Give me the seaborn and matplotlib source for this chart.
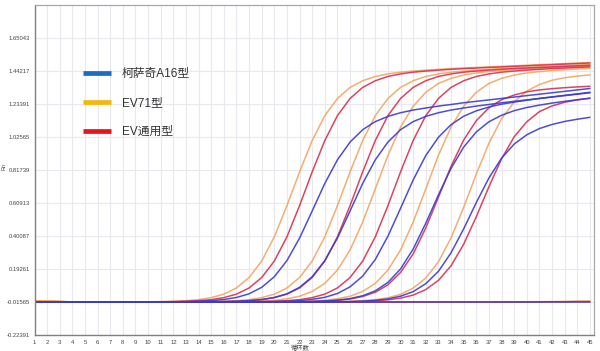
import pandas as pd
import matplotlib
matplotlib.use("Agg")
import matplotlib.pyplot as plt
from matplotlib.lines import Line2D
import seaborn as sns

cycles = list(range(1, 46))

# EV71 wells (orange)
ev71_1 = [-0.010, -0.011, -0.013, -0.015, -0.016, -0.016, -0.016, -0.016, -0.016,
          -0.015, -0.013, -0.011, -0.007, -0.001, 0.012, 0.034, 0.073, 0.139,
          0.243, 0.396, 0.593, 0.806, 1.004, 1.161, 1.269, 1.339, 1.381,
          1.408, 1.424, 1.435, 1.442, 1.448, 1.453, 1.458, 1.461, 1.465,
          1.468, 1.472, 1.475, 1.479, 1.482, 1.486, 1.489, 1.493, 1.496]
ev71_2 = [-0.010, -0.011, -0.013, -0.015, -0.016, -0.016, -0.016, -0.016, -0.016,
          -0.016, -0.016, -0.016, -0.016, -0.015, -0.013, -0.011, -0.007, -0.001,
          0.012, 0.034, 0.073, 0.139, 0.243, 0.396, 0.593, 0.806, 1.004,
          1.161, 1.269, 1.339, 1.381, 1.408, 1.424, 1.435, 1.442, 1.448,
          1.453, 1.458, 1.461, 1.465, 1.468, 1.472, 1.475, 1.479, 1.482]
ev71_3 = [-0.010, -0.011, -0.013, -0.015, -0.016, -0.016, -0.016, -0.016, -0.016,
          -0.016, -0.016, -0.016, -0.016, -0.016, -0.016, -0.015, -0.014, -0.013,
          -0.010, -0.005, 0.005, 0.021, 0.051, 0.102, 0.186, 0.313, 0.489,
          0.699, 0.910, 1.089, 1.220, 1.308, 1.364, 1.396, 1.417, 1.430,
          1.439, 1.445, 1.451, 1.455, 1.459, 1.463, 1.466, 1.470, 1.473]
ev71_4 = [-0.010, -0.011, -0.013, -0.015, -0.016, -0.016, -0.016, -0.016, -0.016,
          -0.016, -0.016, -0.016, -0.016, -0.016, -0.016, -0.016, -0.016, -0.016,
          -0.016, -0.015, -0.014, -0.013, -0.010, -0.005, 0.005, 0.021, 0.051,
          0.102, 0.186, 0.313, 0.489, 0.699, 0.910, 1.089, 1.220, 1.308,
          1.364, 1.396, 1.417, 1.430, 1.439, 1.445, 1.451, 1.455, 1.459]
ev71_5 = [-0.010, -0.011, -0.013, -0.015, -0.016, -0.016, -0.016, -0.016, -0.016,
          -0.016, -0.016, -0.016, -0.016, -0.016, -0.016, -0.016, -0.016, -0.016,
          -0.016, -0.016, -0.016, -0.016, -0.016, -0.015, -0.013, -0.011, -0.007,
          -0.001, 0.011, 0.033, 0.072, 0.136, 0.238, 0.389, 0.582, 0.792,
          0.987, 1.141, 1.247, 1.316, 1.357, 1.384, 1.400, 1.410, 1.418]
ev71_ntc = [-0.010, -0.011, -0.013, -0.015, -0.016, -0.016, -0.016, -0.016, -0.016,
            -0.016, -0.016, -0.016, -0.016, -0.016, -0.016, -0.016, -0.016, -0.016,
            -0.016, -0.016, -0.016, -0.016, -0.016, -0.016, -0.016, -0.016, -0.016,
            -0.016, -0.016, -0.016, -0.016, -0.016, -0.016, -0.016, -0.016, -0.016,
            -0.016, -0.015, -0.015, -0.014, -0.014, -0.013, -0.012, -0.011, -0.010]

# EV pan wells (red)
ev_1 = [-0.016, -0.016, -0.016, -0.016, -0.016, -0.016, -0.016, -0.016, -0.016,
        -0.016, -0.015, -0.013, -0.011, -0.007, -0.001, 0.012, 0.034, 0.073,
        0.139, 0.243, 0.396, 0.593, 0.806, 1.004, 1.161, 1.269, 1.339,
        1.381, 1.408, 1.424, 1.435, 1.442, 1.448, 1.453, 1.458, 1.461,
        1.465, 1.468, 1.472, 1.475, 1.479, 1.482, 1.486, 1.489, 1.493]
ev_2 = [-0.016, -0.016, -0.016, -0.016, -0.016, -0.016, -0.016, -0.016, -0.016,
        -0.016, -0.016, -0.016, -0.016, -0.016, -0.015, -0.013, -0.011, -0.007,
        -0.001, 0.012, 0.034, 0.073, 0.139, 0.243, 0.396, 0.593, 0.806,
        1.004, 1.161, 1.269, 1.339, 1.381, 1.408, 1.424, 1.435, 1.442,
        1.448, 1.453, 1.458, 1.461, 1.465, 1.468, 1.472, 1.475, 1.479]
ev_3 = [-0.016, -0.016, -0.016, -0.016, -0.016, -0.016, -0.016, -0.016, -0.016,
        -0.016, -0.016, -0.016, -0.016, -0.016, -0.016, -0.016, -0.016, -0.015,
        -0.013, -0.011, -0.007, -0.001, 0.012, 0.034, 0.073, 0.139, 0.243,
        0.396, 0.593, 0.806, 1.004, 1.161, 1.269, 1.339, 1.381, 1.408,
        1.424, 1.435, 1.442, 1.448, 1.453, 1.458, 1.461, 1.465, 1.468]
ev_4 = [-0.016, -0.016, -0.016, -0.016, -0.016, -0.016, -0.016, -0.016, -0.016,
        -0.016, -0.016, -0.016, -0.016, -0.016, -0.016, -0.016, -0.016, -0.016,
        -0.016, -0.016, -0.015, -0.014, -0.013, -0.010, -0.005, 0.003, 0.019,
        0.046, 0.093, 0.171, 0.288, 0.452, 0.646, 0.841, 1.007, 1.129,
        1.210, 1.261, 1.291, 1.311, 1.323, 1.331, 1.337, 1.342, 1.346]
ev_5 = [-0.016, -0.016, -0.016, -0.016, -0.016, -0.016, -0.016, -0.016, -0.016,
        -0.016, -0.016, -0.016, -0.016, -0.016, -0.016, -0.016, -0.016, -0.016,
        -0.016, -0.016, -0.016, -0.016, -0.016, -0.016, -0.015, -0.014, -0.012,
        -0.008, -0.002, 0.009, 0.028, 0.063, 0.121, 0.213, 0.349, 0.523,
        0.712, 0.888, 1.027, 1.122, 1.186, 1.222, 1.245, 1.260, 1.270]
ev_ntc = [-0.015, -0.015, -0.016, -0.016, -0.016, -0.016, -0.016, -0.016, -0.016,
          -0.016, -0.016, -0.016, -0.016, -0.016, -0.016, -0.016, -0.016, -0.016,
          -0.016, -0.016, -0.016, -0.016, -0.016, -0.016, -0.016, -0.016, -0.016,
          -0.016, -0.016, -0.016, -0.016, -0.016, -0.016, -0.016, -0.016, -0.016,
          -0.016, -0.016, -0.015, -0.015, -0.015, -0.014, -0.014, -0.013, -0.013]

# Coxsackie A16 wells (blue)
ca16_1 = [-0.016, -0.016, -0.016, -0.016, -0.016, -0.016, -0.016, -0.016, -0.016,
          -0.016, -0.015, -0.015, -0.013, -0.011, -0.007, 0.000, 0.013, 0.036,
          0.077, 0.144, 0.246, 0.388, 0.559, 0.733, 0.882, 0.994, 1.072,
          1.123, 1.156, 1.179, 1.196, 1.209, 1.221, 1.231, 1.242, 1.251,
          1.260, 1.269, 1.278, 1.287, 1.296, 1.305, 1.314, 1.323, 1.332]
ca16_2 = [-0.016, -0.016, -0.016, -0.016, -0.016, -0.016, -0.016, -0.016, -0.016,
          -0.016, -0.016, -0.016, -0.016, -0.015, -0.015, -0.013, -0.011, -0.007,
          0.000, 0.013, 0.036, 0.077, 0.144, 0.246, 0.388, 0.559, 0.733,
          0.882, 0.994, 1.072, 1.123, 1.156, 1.179, 1.196, 1.209, 1.221,
          1.231, 1.242, 1.251, 1.260, 1.269, 1.278, 1.287, 1.296, 1.305]
ca16_3 = [-0.016, -0.016, -0.016, -0.016, -0.016, -0.016, -0.016, -0.016, -0.016,
          -0.016, -0.016, -0.016, -0.016, -0.016, -0.016, -0.016, -0.016, -0.015,
          -0.014, -0.013, -0.011, -0.007, 0.001, 0.014, 0.038, 0.080, 0.148,
          0.253, 0.400, 0.576, 0.755, 0.909, 1.024, 1.104, 1.157, 1.191,
          1.215, 1.233, 1.246, 1.258, 1.269, 1.279, 1.289, 1.298, 1.308]
ca16_4 = [-0.016, -0.016, -0.016, -0.016, -0.016, -0.016, -0.016, -0.016, -0.016,
          -0.016, -0.016, -0.016, -0.016, -0.016, -0.016, -0.016, -0.016, -0.016,
          -0.016, -0.016, -0.015, -0.014, -0.012, -0.009, -0.004, 0.006, 0.024,
          0.055, 0.108, 0.193, 0.319, 0.482, 0.660, 0.828, 0.962, 1.058,
          1.122, 1.163, 1.192, 1.212, 1.227, 1.240, 1.251, 1.261, 1.271]
ca16_5 = [-0.016, -0.016, -0.016, -0.016, -0.016, -0.016, -0.016, -0.016, -0.016,
          -0.016, -0.016, -0.016, -0.016, -0.016, -0.016, -0.016, -0.016, -0.016,
          -0.016, -0.016, -0.016, -0.016, -0.016, -0.015, -0.014, -0.013, -0.010,
          -0.005, 0.004, 0.021, 0.050, 0.100, 0.178, 0.295, 0.446, 0.612,
          0.767, 0.892, 0.981, 1.040, 1.079, 1.105, 1.124, 1.138, 1.150]
ca16_ntc = [-0.018, -0.018, -0.018, -0.018, -0.018, -0.018, -0.018, -0.018, -0.018,
            -0.018, -0.018, -0.018, -0.018, -0.018, -0.018, -0.018, -0.018, -0.018,
            -0.018, -0.018, -0.018, -0.018, -0.018, -0.018, -0.018, -0.018, -0.018,
            -0.018, -0.018, -0.018, -0.018, -0.018, -0.018, -0.018, -0.018, -0.018,
            -0.018, -0.018, -0.018, -0.018, -0.018, -0.018, -0.018, -0.018, -0.018]

y_ticks = [-0.22391, -0.01565, 0.19261, 0.40087, 0.60913, 0.81739,
           1.02565, 1.23391, 1.44217, 1.65043]
y_tick_labels = ["-0.22391", "-0.01565", "0.19261", "0.40087", "0.60913",
                 "0.81739", "1.02565", "1.23391", "1.44217", "1.65043"]
legend_labels = ["柯萨奇A16型", "EV71型", "EV通用型"]
legend_colors = ["#1a6cc4", "#f6b60a", "#e8141c"]

orange = "#f2a560"
red = "#d8304e"
blue = "#3b3bd0"

series = {
    "ev71_ntc": (ev71_ntc, orange), "ev71_1": (ev71_1, orange), "ev71_2": (ev71_2, orange),
    "ev71_3": (ev71_3, orange), "ev71_4": (ev71_4, orange), "ev71_5": (ev71_5, orange),
    "ev_ntc": (ev_ntc, red), "ev_1": (ev_1, red), "ev_2": (ev_2, red),
    "ev_3": (ev_3, red), "ev_4": (ev_4, red), "ev_5": (ev_5, red),
    "ca16_ntc": (ca16_ntc, blue), "ca16_1": (ca16_1, blue), "ca16_2": (ca16_2, blue),
    "ca16_3": (ca16_3, blue), "ca16_4": (ca16_4, blue), "ca16_5": (ca16_5, blue),
}

df = pd.concat([pd.DataFrame({"cycle": cycles, "rn": vals, "well": name})
                for name, (vals, _) in series.items()], ignore_index=True)
palette = {name: col for name, (_, col) in series.items()}

sns.set_theme(style="whitegrid")
plt.rcParams["font.family"] = ["Liberation Sans", "Noto Sans CJK SC"]

fig = plt.figure(figsize=(6, 3.51), dpi=100)
ax = fig.add_axes([0.0575, 0.0456, 0.932, 0.940])

sns.lineplot(data=df, x="cycle", y="rn", hue="well", hue_order=list(series.keys()),
             palette=palette, estimator=None, legend=False, lw=1.1, alpha=0.9, ax=ax)

ax.set_xlim(1, 45.3)
ax.set_ylim(-0.22391, 1.85869)
ax.set_xticks(cycles)
ax.set_xticklabels([str(c) for c in cycles])
ax.set_yticks(y_ticks)
ax.set_yticklabels(y_tick_labels)
ax.tick_params(axis="both", labelsize=4.2, colors="#444444", length=1.5, pad=2)
ax.grid(True, color="#e8e8ee", lw=0.8)

for side in ["left", "bottom"]:
    ax.spines[side].set_color("#808080")
    ax.spines[side].set_linewidth(1.0)
for side in ["top", "right"]:
    ax.spines[side].set_color("#a8a8a8")
    ax.spines[side].set_linewidth(0.9)

ax.set_xlabel("循环数", fontsize=4.5, color="#444444")
ax.xaxis.set_label_coords(0.475, -0.031)
ax.set_ylabel("Rn", fontsize=4, color="#444444")
ax.yaxis.set_label_coords(-0.05, 0.51)

handles = [Line2D([0], [0], color=c, lw=3.4, solid_capstyle="butt") for c in legend_colors]
ax.legend(handles, legend_labels, loc="upper left", bbox_to_anchor=(0.087, 0.81),
          frameon=False, fontsize=8.5, handlelength=2.4, handletextpad=0.85,
          labelspacing=1.45, borderpad=0, borderaxespad=0, labelcolor="#333333")

fig.savefig("out.png", dpi=100)
